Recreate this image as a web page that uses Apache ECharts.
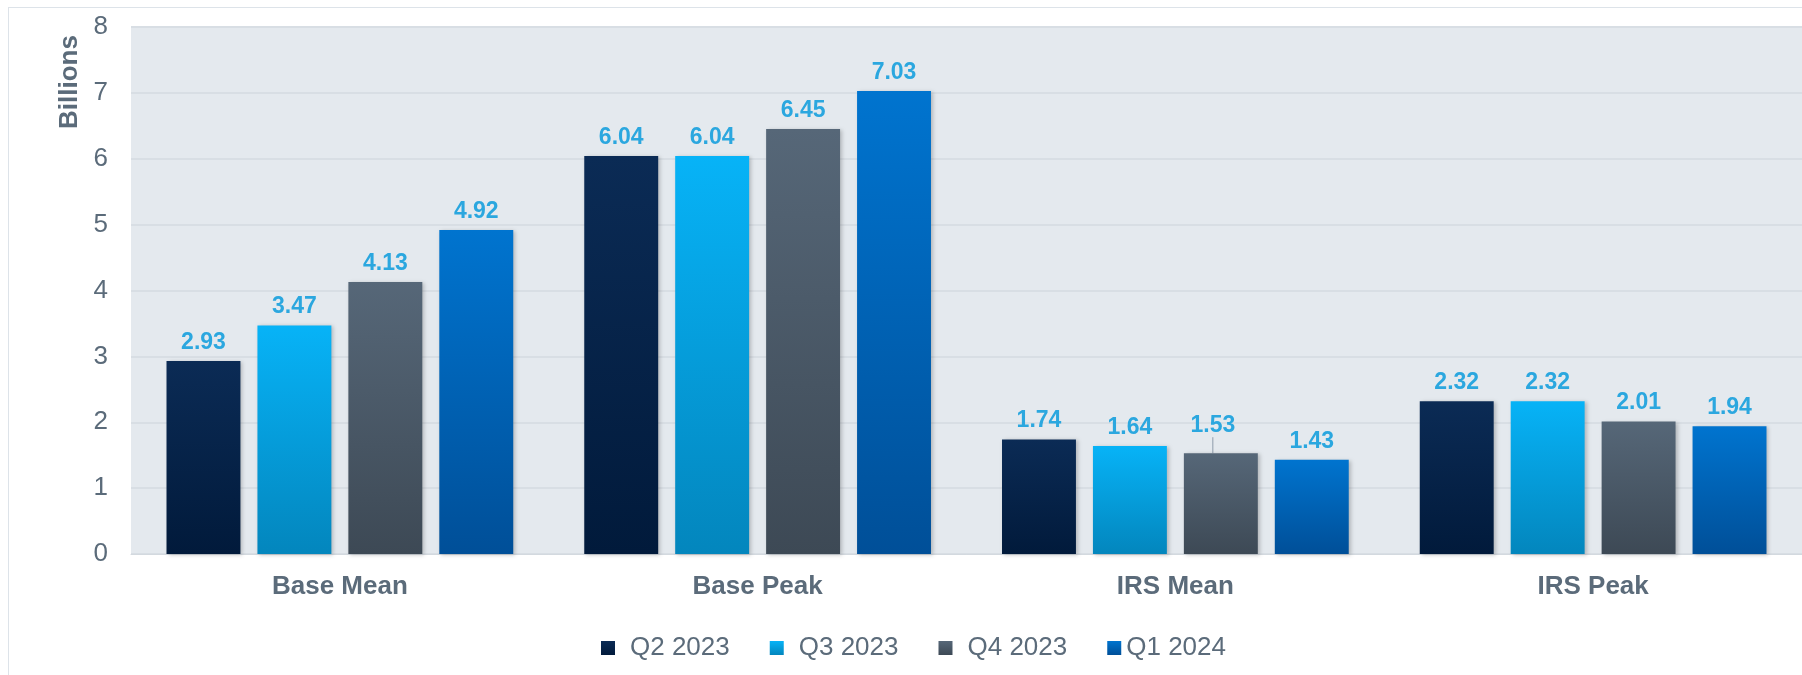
<!DOCTYPE html>
<html>
<head>
<meta charset="utf-8">
<script src="https://cdn.jsdelivr.net/npm/echarts@6/dist/echarts.min.js"></script>
<style>
  html, body { margin: 0; padding: 0; background: #fff; }
  #chart { width: 1802px; height: 675px; }
  /* thin frame on top/left like the source panel */
  .frame {
    position: absolute; left: 8px; top: 7px; right: 0; bottom: 0;
    border-left: 1px solid #dde3e9; border-top: 1px solid #dde3e9;
    pointer-events: none;
  }
</style>
</head>
<body>
<div id="chart"></div>
<div class="frame"></div>
<script>
// categories and quarters
var categories = ['Base Mean', 'Base Peak', 'IRS Mean', 'IRS Peak'];
var quarters = ['Q2 2023', 'Q3 2023', 'Q4 2023', 'Q1 2024'];
// values per quarter (billions)
var q2_2023 = [2.93, 6.04, 1.74, 2.32];
var q3_2023 = [3.47, 6.04, 1.64, 2.32];
var q4_2023 = [4.13, 6.45, 1.53, 2.01];
var q1_2024 = [4.92, 7.03, 1.43, 1.94];
var yTicks = [0, 8, 1]; // min, max, step

var font = 'Liberation Sans, Arial, sans-serif';
var slate = '#5b6b7a';

// gradient top -> bottom for each quarter
var gradients = [
  ['#0b2b55', '#011a3b'],
  ['#07b3f7', '#0386bd'],
  ['#566778', '#3d4955'],
  ['#0074cf', '#004f98']
];

function grad (c) {
  return new echarts.graphic.LinearGradient(0, 0, 0, 1, [
    { offset: 0, color: c[0] },
    { offset: 1, color: c[1] }
  ]);
}

function makeSeries (name, values, idx) {
  return {
    name: name,
    type: 'bar',
    barGap: '23%',
    barCategoryGap: '17%',
    itemStyle: {
      color: grad(gradients[idx]),
      shadowColor: 'rgba(0,0,0,0.22)',
      shadowBlur: 4,
      shadowOffsetX: 2,
      shadowOffsetY: 1
    },
    label: {
      show: true,
      position: 'top',
      distance: 7,
      color: '#2ba7df',
      fontFamily: font,
      fontWeight: 'bold',
      fontSize: 23
    },
    data: values.map(function (v) { return v; })
  };
}

var series = [
  makeSeries(quarters[0], q2_2023, 0),
  makeSeries(quarters[1], q3_2023, 1),
  makeSeries(quarters[2], q4_2023, 2),
  makeSeries(quarters[3], q1_2024, 3)
];

// the 1.53 label sits a bit off its bar, with a small leader line
series[2].data[2] = {
  value: q4_2023[2],
  labelLine: { show: true, lineStyle: { color: '#8e9cab', width: 1 } }
};
series[2].labelLayout = function (params) {
  if (params.dataIndex === 2) return { dx: -8, dy: -9 };
  return {};
};

// legend entries; the last one has its text tucked closer to the swatch
var legendData = quarters.map(function (q, i) {
  if (i === quarters.length - 1) {
    return { name: q, textStyle: { padding: [0, 0, 0, 0] } };
  }
  return { name: q };
});

var chart = echarts.init(document.getElementById('chart'));
chart.setOption({
  backgroundColor: '#fff',
  animation: false,
  textStyle: { fontFamily: font },
  grid: {
    left: 131,
    right: -2,
    top: 27,
    bottom: 121,
    show: true,
    backgroundColor: '#e4e9ee',
    borderWidth: 0
  },
  legend: {
    data: legendData,
    left: 596,
    top: 630,
    itemWidth: 14,
    itemHeight: 14,
    itemGap: 40,
    icon: 'rect',
    textStyle: {
      color: slate,
      fontSize: 26,
      fontFamily: font,
      padding: [0, 0, 0, 10]
    }
  },
  xAxis: {
    type: 'category',
    data: categories,
    axisLine: { show: true, lineStyle: { color: '#d3d9df', width: 1 } },
    axisTick: { show: false },
    axisLabel: {
      color: slate,
      fontSize: 26,
      fontWeight: 'bold',
      fontFamily: font,
      margin: 20
    }
  },
  yAxis: {
    type: 'value',
    min: yTicks[0],
    max: yTicks[1],
    interval: yTicks[2],
    axisLine: { show: false },
    axisTick: { show: false },
    axisLabel: {
      color: slate,
      fontSize: 26,
      fontFamily: font,
      margin: 23
    },
    splitLine: { lineStyle: { color: '#d8dee4', width: 2 } }
  },
  graphic: [{
    type: 'text',
    x: 70,
    y: 82,
    rotation: Math.PI / 2,
    style: {
      text: 'Billions',
      fill: slate,
      font: 'bold 26px ' + font,
      align: 'center',
      verticalAlign: 'middle'
    }
  }],
  series: series
});
</script>
</body>
</html>
